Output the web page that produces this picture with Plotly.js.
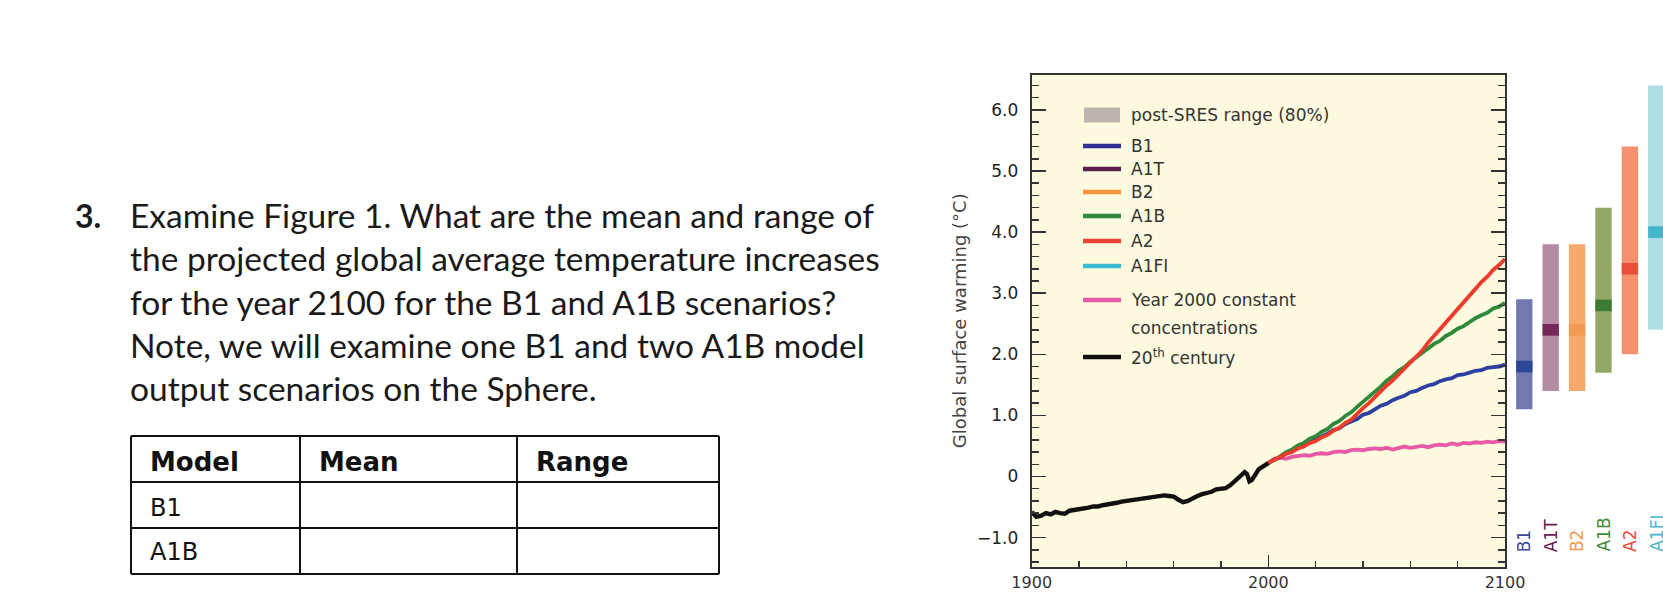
<!DOCTYPE html>
<html>
<head>
<meta charset="utf-8">
<script src="https://cdn.plot.ly/plotly-3.0.1.min.js"></script>
<style>
  html, body { margin: 0; padding: 0; background: #ffffff; }
  #chart { width: 1663px; height: 594px; }
</style>
</head>
<body>
<div id="chart"></div>
<script>
// ---------------- DATA ----------------
const histYears = [1900,1902,1904,1906,1908,1910,1912,1914,1916,1918,1920,1922,1924,1926,1928,1930,1932,1934,1936,1938,1940,1942,1944,1946,1948,1950,1952,1954,1956,1958,1960,1962,1964,1966,1968,1970,1972,1974,1976,1978,1980,1982,1984,1986,1988,1990,1991,1992,1993,1994,1996,1998,2000];
const histWarming = [-0.58,-0.66,-0.64,-0.60,-0.62,-0.58,-0.60,-0.61,-0.56,-0.55,-0.53,-0.52,-0.51,-0.49,-0.49,-0.47,-0.46,-0.44,-0.43,-0.41,-0.40,-0.39,-0.38,-0.37,-0.36,-0.34,-0.33,-0.32,-0.31,-0.32,-0.33,-0.38,-0.42,-0.40,-0.35,-0.32,-0.29,-0.27,-0.25,-0.21,-0.20,-0.19,-0.14,-0.07,-0.01,0.07,0.04,-0.08,-0.06,0.01,0.12,0.17,0.22];

const projYears = [2000,2002.5,2005,2007.5,2010,2012.5,2015,2017.5,2020,2022.5,2025,2027.5,2030,2032.5,2035,2037.5,2040,2042.5,2045,2047.5,2050,2052.5,2055,2057.5,2060,2062.5,2065,2067.5,2070,2072.5,2075,2077.5,2080,2082.5,2085,2087.5,2090,2092.5,2095,2097.5,2100];
const commitWarming = [0.22,0.29,0.31,0.29,0.32,0.33,0.35,0.34,0.37,0.38,0.37,0.40,0.41,0.40,0.43,0.44,0.43,0.45,0.46,0.45,0.47,0.44,0.47,0.49,0.47,0.49,0.50,0.48,0.51,0.52,0.51,0.54,0.52,0.55,0.54,0.56,0.55,0.57,0.56,0.58,0.57];
const b1Warming = [0.22,0.28,0.31,0.38,0.42,0.46,0.53,0.55,0.62,0.65,0.70,0.76,0.79,0.86,0.90,0.94,1.01,1.04,1.10,1.16,1.19,1.25,1.29,1.32,1.38,1.40,1.45,1.49,1.51,1.56,1.59,1.61,1.66,1.67,1.70,1.73,1.74,1.78,1.79,1.80,1.83];
const a1bWarming = [0.22,0.27,0.33,0.40,0.44,0.51,0.55,0.62,0.66,0.73,0.78,0.86,0.91,0.99,1.05,1.14,1.22,1.30,1.40,1.47,1.57,1.64,1.73,1.79,1.88,1.95,2.03,2.09,2.17,2.22,2.30,2.35,2.42,2.46,2.53,2.59,2.64,2.68,2.75,2.78,2.84];
const a2Warming = [0.22,0.27,0.31,0.37,0.40,0.46,0.49,0.55,0.58,0.64,0.68,0.75,0.80,0.88,0.93,1.03,1.12,1.20,1.30,1.39,1.49,1.57,1.67,1.75,1.85,1.97,2.06,2.19,2.30,2.40,2.53,2.63,2.75,2.85,2.97,3.06,3.18,3.27,3.38,3.46,3.56];

const scenarios = ['B1','A1T','B2','A1B','A2','A1FI'];
const bestEstimate = [1.8, 2.4, 2.4, 2.8, 3.4, 4.0];
const likelyLow = [1.1, 1.4, 1.4, 1.7, 2.0, 2.4];
const likelyHigh = [2.9, 3.8, 3.8, 4.4, 5.4, 6.4];
const barColors = ['#7378B0','#B58AA3','#F6A96A','#94A866','#F4916F','#AEDDE5'];
const meanColors = ['#2C4796','#74285A','#F39A52','#3B7B34','#E8503A','#44B6CB'];
const labelColors = ['#3B4A9A','#6B2150','#F39A4A','#3C8A3A','#EE4A3A','#49B8CE'];

const yTickVals = [-1,0,1,2,3,4,5,6];
const yTickText = ['\u22121.0','0','1.0','2.0','3.0','4.0','5.0','6.0'];
const xTickVals = [1900,2000,2100];
const xTickText = ['1900','2000','2100'];

const legendLabels = ['post-SRES range (80%)','B1','A1T','B2','A1B','A2','A1FI','Year 2000 constant','20<sup>th</sup> century'];
const legendColors = ['#BDB4AD','#2E3192','#5E1F4E','#F7953F','#2F8A3C','#EE4433','#3BBCD2','#E75CA4','#111111'];

const questionNumber = '3.';
const questionLines = [
  'Examine Figure 1. What are the mean and range of',
  'the projected global average temperature increases',
  'for the year 2100 for the B1 and A1B scenarios?',
  'Note, we will examine one B1 and two A1B model',
  'output scenarios on the Sphere.'
];
const tableHeader = ['Model','Mean','Range'];
const tableRows = ['B1','A1B'];

// ---------------- LAYOUT HELPERS ----------------
const W = 1663, H = 594;
const px = x => x / W;
const py = y => 1 - y / H;
const chartFont = 'DejaVu Sans, Arial, sans-serif';
const docFont = 'Lato, Open Sans, sans-serif';
const tableFont = 'DejaVu Sans, sans-serif';

// ---------------- TRACES ----------------
const traces = [];
traces.push({x: projYears, y: commitWarming, type:'scatter', mode:'lines', line:{color:'#E85AA5', width:3.8}, xaxis:'x', yaxis:'y', hoverinfo:'skip'});
traces.push({x: projYears, y: b1Warming, type:'scatter', mode:'lines', line:{color:'#2D3FA0', width:3.8}, xaxis:'x', yaxis:'y', hoverinfo:'skip'});
traces.push({x: projYears, y: a1bWarming, type:'scatter', mode:'lines', line:{color:'#2E8A3A', width:3.8}, xaxis:'x', yaxis:'y', hoverinfo:'skip'});
traces.push({x: projYears, y: a2Warming, type:'scatter', mode:'lines', line:{color:'#EE3B2B', width:3.8}, xaxis:'x', yaxis:'y', hoverinfo:'skip'});
traces.push({x: histYears, y: histWarming, type:'scatter', mode:'lines', line:{color:'#111111', width:4.4}, xaxis:'x', yaxis:'y', hoverinfo:'skip'});

traces.push({
  x: scenarios, y: likelyHigh.map((h,i) => h - likelyLow[i]), base: likelyLow,
  type:'bar', width: 0.62, marker:{color: barColors, line:{width:0}},
  xaxis:'x2', yaxis:'y2', hoverinfo:'skip'
});
const meanHalf = 0.095;
traces.push({
  x: scenarios, y: bestEstimate.map(() => 2*meanHalf), base: bestEstimate.map(m => m - meanHalf),
  type:'bar', width: 0.62, marker:{color: meanColors, line:{width:0}},
  xaxis:'x2', yaxis:'y2', hoverinfo:'skip'
});

// ---------------- SHAPES & ANNOTATIONS ----------------
const shapes = [];
const annotations = [];

// cream plot background
shapes.push({type:'rect', xref:'x domain', yref:'y domain', x0:0, x1:1, y0:0, y1:1, fillcolor:'#FEFADF', line:{width:0}, layer:'below'});

// legend
const legendY = [115,146,169,192,216,241,266,300,357];
legendLabels.forEach((lab, i) => {
  const yy = legendY[i];
  if (i === 0) {
    shapes.push({type:'rect', xref:'paper', yref:'paper', x0:px(1084), x1:px(1120), y0:py(122.5), y1:py(107.5), fillcolor:legendColors[i], line:{width:0}});
  } else {
    shapes.push({type:'line', xref:'paper', yref:'paper', x0:px(1083), x1:px(1121), y0:py(yy), y1:py(yy), line:{color:legendColors[i], width:4.5}});
  }
  annotations.push({xref:'paper', yref:'paper', x:px(1129), y:py(yy), xanchor:'left', yanchor:'middle', text:lab, showarrow:false, font:{family:chartFont, size:17, color:'#333333'}});
});
annotations.push({xref:'paper', yref:'paper', x:px(1129), y:py(328), xanchor:'left', yanchor:'middle', text:'concentrations', showarrow:false, font:{family:chartFont, size:17, color:'#333333'}});

// scenario labels under bars
scenarios.forEach((s, i) => {
  annotations.push({xref:'x2', yref:'paper', x:s, y:py(554), xanchor:'center', yanchor:'bottom', textangle:-90, text:s, showarrow:false, font:{family:chartFont, size:17, color:labelColors[i]}});
});

// question text
annotations.push({xref:'paper', yref:'paper', x:px(73), y:py(215), xanchor:'left', yanchor:'middle', text:'<b>'+questionNumber+'</b>', showarrow:false, font:{family:docFont, size:32, color:'#1a1a1a'}});
const lineY = [215, 258.5, 301.5, 344.5, 388];
questionLines.forEach((t, i) => {
  annotations.push({xref:'paper', yref:'paper', x:px(128), y:py(lineY[i]), xanchor:'left', yanchor:'middle', text:t, showarrow:false, font:{family:docFont, size:33.5, color:'#1a1a1a'}});
});

// table
const tX = [131, 300, 517, 719];
const tY = [436, 482, 528, 574];
tX.forEach(x => shapes.push({type:'line', xref:'paper', yref:'paper', x0:px(x), x1:px(x), y0:py(tY[0]), y1:py(tY[3]), line:{color:'#111', width:2}}));
tY.forEach(y => shapes.push({type:'line', xref:'paper', yref:'paper', x0:px(tX[0]), x1:px(tX[3]), y0:py(y), y1:py(y), line:{color:'#111', width:2}}));
tableHeader.forEach((h, i) => {
  annotations.push({xref:'paper', yref:'paper', x:px(tX[i] + 17), y:py(462), xanchor:'left', yanchor:'middle', text:'<b>'+h+'</b>', showarrow:false, font:{family:tableFont, size:26, color:'#111'}});
});
tableRows.forEach((r, i) => {
  annotations.push({xref:'paper', yref:'paper', x:px(tX[0] + 17), y:py(508 + i*44), xanchor:'left', yanchor:'middle', text:r, showarrow:false, font:{family:tableFont, size:24, color:'#111'}});
});

const yDomain = [py(566.5), py(75)];
const yRange = [-1.473, 6.571];

const layout = {
  width: W, height: H,
  margin: {l:0, r:0, t:0, b:0, pad:0},
  paper_bgcolor: '#ffffff',
  plot_bgcolor: 'rgba(0,0,0,0)',
  showlegend: false,
  barmode: 'overlay',
  xaxis: {
    domain: [px(1031.7), px(1505)], range: [1900, 2100], anchor:'y',
    tickvals: xTickVals, ticktext: xTickText,
    ticks:'inside', ticklen: 12, tickwidth: 1.5, tickcolor:'#333',
    minor: {dtick: 20, tick0: 1900, ticks:'inside', ticklen: 6, tickwidth: 1.5, tickcolor:'#333'},
    showline: true, linewidth: 2, linecolor:'#333', mirror: true,
    showgrid: false, zeroline: false,
    tickfont: {family: chartFont, size: 16, color:'#333'},
    ticklabelstandoff: 0
  },
  yaxis: {
    domain: yDomain, range: yRange, anchor:'x',
    tickvals: yTickVals, ticktext: yTickText,
    ticks:'inside', ticklen: 14, tickwidth: 1.5, tickcolor:'#333',
    minor: {dtick: 0.2, tick0: 0, ticks:'inside', ticklen: 7, tickwidth: 1.5, tickcolor:'#333'},
    showline: true, linewidth: 2, linecolor:'#333', mirror:'allticks',
    showgrid: false, zeroline: false,
    tickfont: {family: chartFont, size: 17, color:'#222'},
    ticklabelstandoff: 8,
    title: {text:'Global surface warming (\u00B0C)', font:{family: chartFont, size:18, color:'#444'}, standoff: 6}
  },
  xaxis2: {
    domain: [px(1505), 1], range: [-0.731, 5.254], anchor:'y2', type:'category',
    visible: false, showgrid:false, zeroline:false
  },
  yaxis2: {
    domain: yDomain, range: yRange, anchor:'x2',
    visible: false, showgrid:false, zeroline:false
  },
  shapes: shapes,
  annotations: annotations
};

Plotly.newPlot('chart', traces, layout, {staticPlot: true, displayModeBar: false});
</script>
</body>
</html>
